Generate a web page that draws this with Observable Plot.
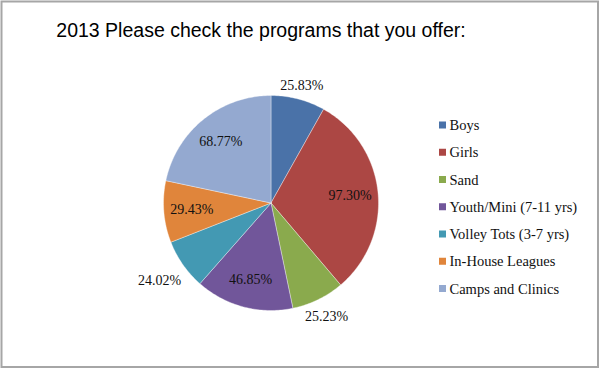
<!DOCTYPE html>
<html><head><meta charset="utf-8">
<script src="https://cdn.jsdelivr.net/npm/d3@7"></script>
<script src="https://cdn.jsdelivr.net/npm/@observablehq/plot@0.6"></script>
<style>body{margin:0;background:#fff}</style>
</head><body><div id="chart"></div>
<script>
const title = "2013 Please check the programs that you offer:";
const categories = ["Boys", "Girls", "Sand", "Youth/Mini (7-11 yrs)", "Volley Tots (3-7 yrs)", "In-House Leagues", "Camps and Clinics"];
const values = [25.83, 97.30, 25.23, 46.85, 24.02, 29.43, 68.77];
const colors = ["#4A72A8", "#AC4744", "#8AAA4D", "#71569A", "#4399B3", "#E0853B", "#94A9D0"];

const W = 600, H = 369, cx = 270.5, cy = 202.5, R = 107.5;
const arcs = d3.pie().sort(null).value(d => d)(values);

const slicePts = [];
arcs.forEach((a, i) => {
  const name = categories[i];
  const n = Math.max(2, Math.ceil((a.endAngle - a.startAngle) / (Math.PI / 180)));
  slicePts.push({name, px: cx, py: cy});
  for (let k = 0; k <= n; k++) {
    const t = a.startAngle + (a.endAngle - a.startAngle) * k / n;
    slicePts.push({name, px: cx + R * Math.sin(t), py: cy - R * Math.cos(t)});
  }
  slicePts.push({name, px: cx, py: cy});
});

const labels = arcs.map((a, i) => {
  const m = (a.startAngle + a.endAngle) / 2;
  const outside = (a.endAngle - a.startAngle) < 0.52;
  const s = Math.sin(m), c = Math.cos(m);
  const d = outside ? R + 8 + 25 * Math.abs(s) : R * 0.74;
  return {text: values[i].toFixed(2) + "%", px: cx + d * s, py: cy - d * c};
});

const legendX = 439, legendTop = 125, legendStep = 27.25, sw = 7;
const legend = categories.map((name, i) => ({name, ly: legendTop + i * legendStep}));

const chart = Plot.plot({
  width: W, height: H, margin: 0,
  x: {domain: [0, W], range: [0, W], axis: null},
  y: {domain: [0, H], range: [0, H], axis: null},
  color: {domain: categories, range: colors},
  marks: [
    Plot.frame({stroke: "#a6a6a6", strokeWidth: 2, insetTop: 1, insetLeft: 1, insetRight: 2.5, insetBottom: 2.5}),
    Plot.line(slicePts, {x: "px", y: "py", z: "name", fill: "name", stroke: "#ffffff", strokeWidth: 0.6, strokeOpacity: 0.6, curve: "linear"}),
    Plot.text(labels, {x: "px", y: "py", text: "text", fontFamily: "Liberation Serif", fontSize: 14, fill: "#111", textAnchor: "middle", lineAnchor: "middle"}),
    Plot.text([title], {x: () => 260.5, y: () => 36.5, text: d => d, fontFamily: "Liberation Sans", fontSize: 19.5, fill: "#000", textAnchor: "middle", lineAnchor: "bottom"}),
    Plot.rect(legend, {x1: () => legendX, x2: () => legendX + sw, y1: d => d.ly - sw / 2, y2: d => d.ly + sw / 2, fill: "name"}),
    Plot.text(legend, {x: () => legendX + sw + 3, y: "ly", text: "name", fontFamily: "Liberation Serif", fontSize: 14.5, fill: "#111", textAnchor: "start", lineAnchor: "middle"})
  ]
});
document.getElementById("chart").append(chart);
</script>
</body></html>
